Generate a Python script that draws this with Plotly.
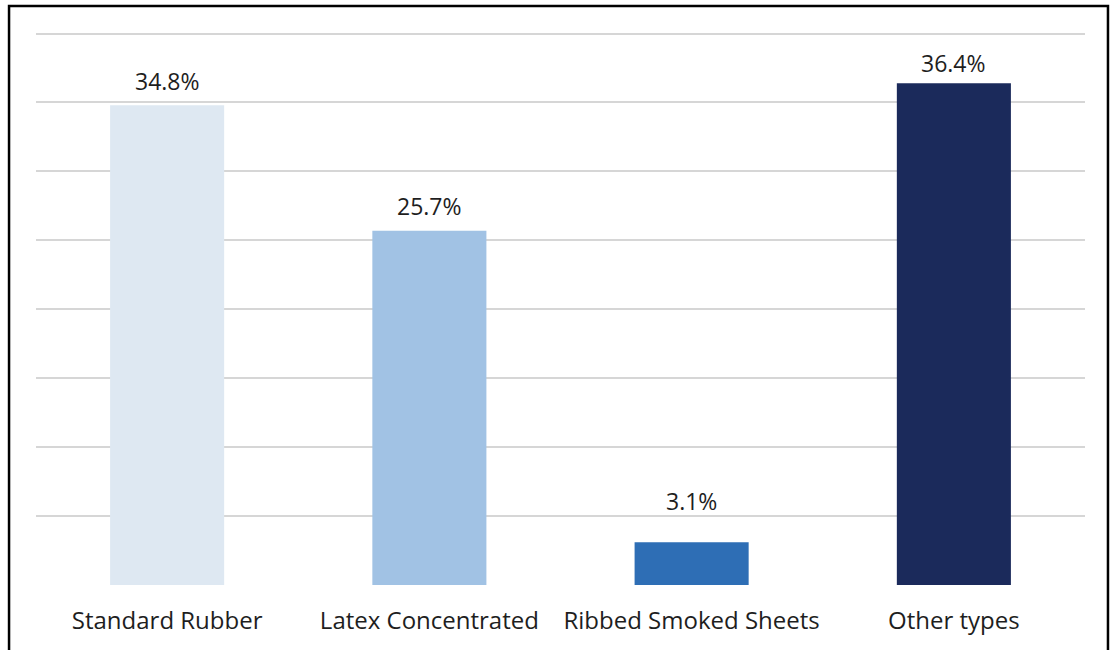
import plotly.graph_objects as go

# Share of natural rubber output by product type
categories = ["Standard Rubber", "Latex Concentrated", "Ribbed Smoked Sheets", "Other types"]
shares = [34.8, 25.7, 3.1, 36.4]
bar_colors = ["#DEE8F2", "#A1C2E4", "#2E6EB5", "#1B2A5B"]
y_ticks = [0, 5, 10, 15, 20, 25, 30, 35, 40]

# pixel lift of each value label above its bar
label_lift = [6, 7, 23, 2]

FONT = "'Open Sans', sans-serif"
TEXT_COLOR = "#1e1e1e"

fig = go.Figure(
    go.Bar(
        x=categories,
        y=shares,
        marker=dict(color=bar_colors, line=dict(width=0)),
        hoverinfo="skip",
    )
)

# value labels above each bar
for cat, val, lift in zip(categories, shares, label_lift):
    fig.add_annotation(
        x=cat, y=val, text=f"{val}%", showarrow=False,
        yanchor="bottom", yshift=lift,
        font=dict(family=FONT, size=23, color=TEXT_COLOR),
    )

# outer frame (open at the bottom edge)
fig.add_shape(
    type="path", xref="paper", yref="paper",
    path="M -0.0257,-0.2 L -0.0257,1.0395 L 1.0219,1.0395 L 1.0219,-0.2",
    line=dict(color="#000000", width=2.5),
)

fig.update_layout(
    width=1114, height=650,
    margin=dict(l=36, r=29, t=28, b=65),
    paper_bgcolor="white", plot_bgcolor="white",
    bargap=0.565,
    showlegend=False,
    font=dict(family=FONT, size=23, color=TEXT_COLOR),
    xaxis=dict(
        showgrid=False, zeroline=False, showline=False,
        ticks="", ticklabelstandoff=19,
        tickfont=dict(family=FONT, size=24, color=TEXT_COLOR),
    ),
    yaxis=dict(
        range=[0, 40.4], tickvals=y_ticks, showticklabels=False,
        showgrid=True, gridcolor="#D6D6D6", gridwidth=2,
        zeroline=False, showline=False, ticks="",
    ),
)

fig.write_html("out.html")
